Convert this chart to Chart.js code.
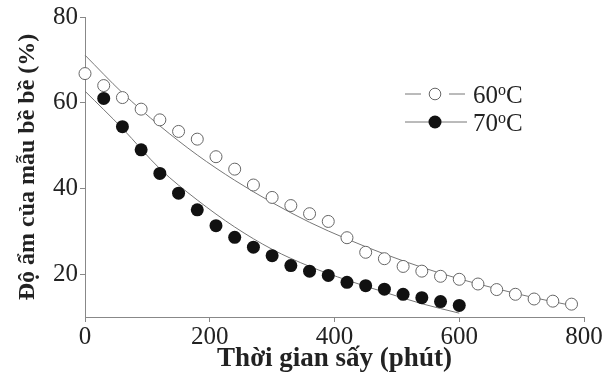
<!DOCTYPE html>
<html>
<head>
<meta charset="utf-8">
<script src="https://cdn.jsdelivr.net/npm/chart.js@4.4.1/dist/chart.umd.min.js"></script>
<style>
html,body{margin:0;padding:0;background:#fff;}
#wrap{width:609px;height:377px;position:relative;}
</style>
</head>
<body>
<div id="wrap"><canvas id="c" width="609" height="377"></canvas></div>
<script>
// observed data (time in minutes, moisture %)
const timeObs60 = [0,30,60,90,120,150,180,210,240,270,300,330,360,390,420,450,480,510,540,570,600,630,660,690,720,750,780];
const moist60   = [66.8,64.0,61.2,58.5,56.0,53.3,51.5,47.4,44.5,40.8,37.9,36.0,34.1,32.3,28.5,25.1,23.6,21.8,20.7,19.5,18.8,17.7,16.4,15.3,14.2,13.7,13.0];
const timeObs70 = [30,60,90,120,150,180,210,240,270,300,330,360,390,420,450,480,510,540,570,600];
const moist70   = [61.0,54.4,49.0,43.5,38.9,35.0,31.3,28.6,26.3,24.3,22.0,20.7,19.7,18.1,17.3,16.5,15.3,14.5,13.6,12.7];
// fitted curves
const fitTime60 = [0,60,120,180,240,300,360,420,480,540,600,660,720,780];
const fitVal60  = [71.1,62.3,54.6,47.8,41.9,36.7,32.1,28.2,24.7,21.6,18.9,16.6,14.5,12.7];
const fitTime70 = [0,60,120,180,240,300,360,420,480,540,600];
const fitVal70  = [62.7,54.0,44.6,37.3,31.0,25.8,21.8,18.6,15.8,13.1,10.9];
// axes
const xTickValues = [0,200,400,600,800];
const yTickValues = [20,40,60,80];
const xTitle = 'Thời gian sấy (phút)';
const yTitle = 'Độ ẩm của mẫu bề bề (%)';
const seriesLabels = ['60', '70'];

const pts = (xs, ys) => xs.map((x, i) => ({x: x, y: ys[i]}));
const SERIF = "'Liberation Serif', 'Times New Roman', serif";

const legendPlugin = {
  id: 'customLegend',
  afterDraw(chart) {
    const ctx = chart.ctx;
    ctx.save();
    const rows = [
      {y: 94, label: seriesLabels[0], filled: false},
      {y: 122, label: seriesLabels[1], filled: true}
    ];
    rows.forEach(r => {
      ctx.strokeStyle = '#777';
      ctx.lineWidth = 1;
      ctx.beginPath();
      if (r.filled) {
        ctx.moveTo(405, r.y); ctx.lineTo(467, r.y);
      } else {
        ctx.moveTo(405, r.y); ctx.lineTo(421, r.y);
        ctx.moveTo(449, r.y); ctx.lineTo(465, r.y);
      }
      ctx.stroke();
      ctx.beginPath();
      ctx.arc(435, r.y, r.filled ? 6.5 : 5.8, 0, Math.PI * 2);
      if (r.filled) { ctx.fillStyle = '#111'; ctx.fill(); }
      else { ctx.fillStyle = '#fff'; ctx.fill(); ctx.strokeStyle = '#666'; ctx.stroke(); }
      ctx.fillStyle = '#222';
      ctx.textBaseline = 'alphabetic';
      ctx.textAlign = 'left';
      const base = r.y + 8.5;
      let x = 473;
      ctx.font = '25px ' + SERIF;
      ctx.fillText(r.label, x, base);
      x += ctx.measureText(r.label).width;
      ctx.font = '16px ' + SERIF;
      ctx.fillText('o', x, base - 7.5);
      x += ctx.measureText('o').width;
      ctx.font = '25px ' + SERIF;
      ctx.fillText('C', x, base);
    });
    ctx.restore();
  }
};

new Chart(document.getElementById('c'), {
  type: 'scatter',
  data: {
    datasets: [
      {label: '60 obs', data: pts(timeObs60, moist60), showLine: false, pointRadius: 6, pointHoverRadius: 6,
       pointBackgroundColor: '#fff', pointBorderColor: '#666', pointBorderWidth: 1, clip: false},
      {label: '70 obs', data: pts(timeObs70, moist70), showLine: false, pointRadius: 6.5, pointHoverRadius: 6.5,
       pointBackgroundColor: '#111', pointBorderColor: '#111', pointBorderWidth: 0, clip: false},
      {label: '60 fit', data: pts(fitTime60, fitVal60), showLine: true, pointRadius: 0, borderColor: '#777',
       borderWidth: 1, tension: 0.4, cubicInterpolationMode: 'monotone', clip: false},
      {label: '70 fit', data: pts(fitTime70, fitVal70), showLine: true, pointRadius: 0, borderColor: '#777',
       borderWidth: 1, tension: 0.4, cubicInterpolationMode: 'monotone', clip: false}
    ]
  },
  options: {
    responsive: false,
    animation: false,
    events: [],
    layout: {padding: {left: 0, top: 16, right: 25, bottom: 0}},
    plugins: {legend: {display: false}, tooltip: {enabled: false}},
    scales: {
      x: {
        type: 'linear', min: 0, max: 800,
        afterBuildTicks: s => { s.ticks = xTickValues.map(v => ({value: v})); },
        afterFit: s => { s.height = 60; },
        border: {color: '#888', width: 1},
        grid: {drawOnChartArea: false, drawTicks: true, tickLength: 5, color: '#888'},
        ticks: {color: '#222', padding: 0, font: {family: SERIF, size: 25}, maxRotation: 0},
        title: {display: true, text: xTitle, color: '#222', padding: {top: 0, bottom: 2},
                font: {family: SERIF, size: 27, weight: 'bold'}}
      },
      y: {
        type: 'linear', min: 10, max: 80,
        afterBuildTicks: s => { s.ticks = yTickValues.map(v => ({value: v})); },
        afterFit: s => { s.width = 85; },
        border: {color: '#888', width: 1},
        grid: {drawOnChartArea: false, drawTicks: true, tickLength: 5, color: '#888'},
        ticks: {color: '#222', padding: 2, font: {family: SERIF, size: 25}},
        title: {display: true, text: yTitle, color: '#222', padding: {top: 13, bottom: 0},
                font: {family: SERIF, size: 24, weight: 'bold'}}
      }
    }
  },
  plugins: [legendPlugin]
});
</script>
</body>
</html>
